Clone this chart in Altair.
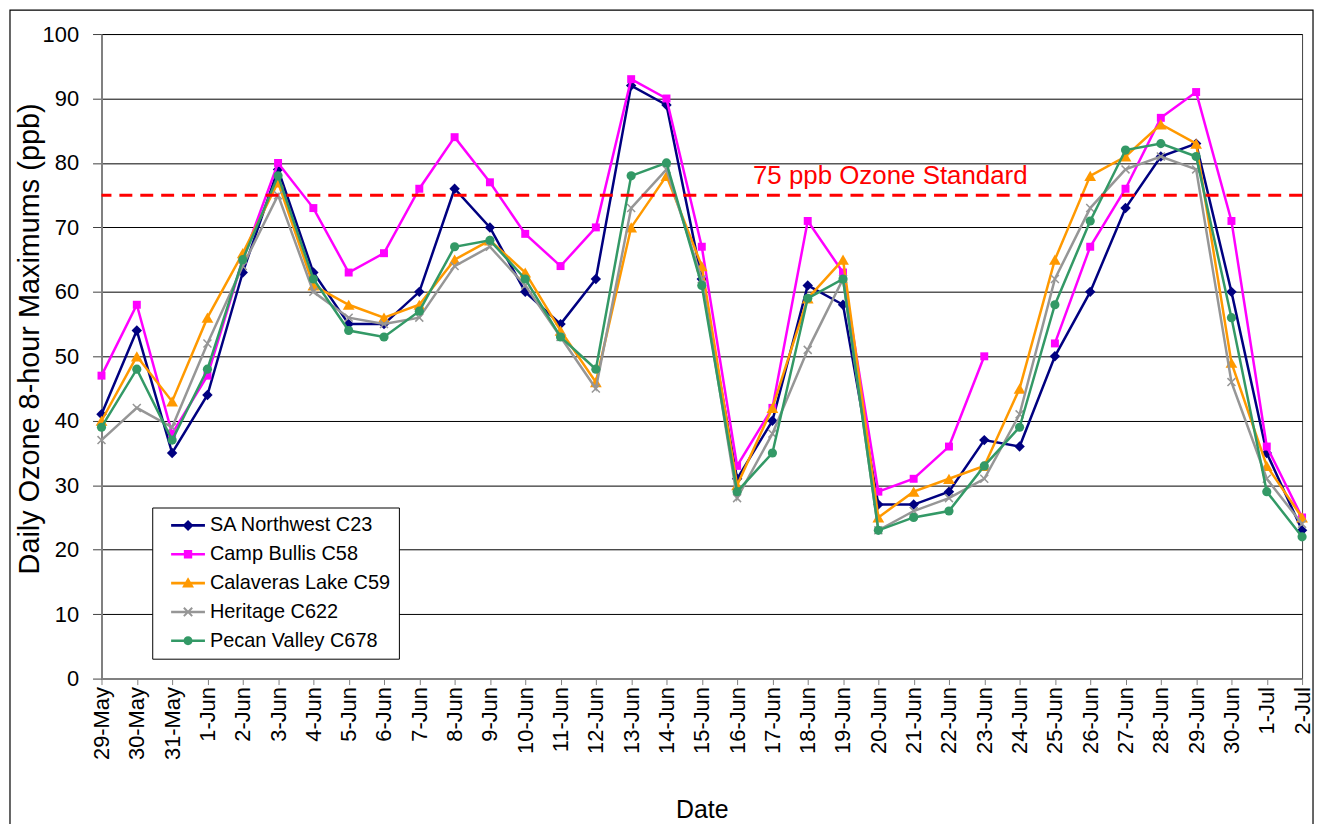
import altair as alt
import pandas as pd

# ---------------- data ----------------
dates = ["29-May", "30-May", "31-May", "1-Jun", "2-Jun", "3-Jun", "4-Jun", "5-Jun",
         "6-Jun", "7-Jun", "8-Jun", "9-Jun", "10-Jun", "11-Jun", "12-Jun", "13-Jun",
         "14-Jun", "15-Jun", "16-Jun", "17-Jun", "18-Jun", "19-Jun", "20-Jun", "21-Jun",
         "22-Jun", "23-Jun", "24-Jun", "25-Jun", "26-Jun", "27-Jun", "28-Jun", "29-Jun",
         "30-Jun", "1-Jul", "2-Jul"]

series_names = ["SA Northwest C23", "Camp Bullis C58", "Calaveras Lake C59",
                "Heritage C622", "Pecan Valley C678"]

sa_northwest = [41, 54, 35, 44, 63, 79, 63, 55, 55, 60, 76, 70, 60, 55, 62, 92, 89, 62,
                31, 40, 61, 58, 27, 27, 29, 37, 36, 50, 60, 73, 81, 83, 60, 35, 23]
camp_bullis = [47, 58, 38, 47, 65, 80, 73, 63, 66, 76, 84, 77, 69, 64, 70, 93, 90, 67,
               33, 42, 71, 63, 29, 31, 36, 50, None, 52, 67, 76, 87, 91, 71, 36, 25]
calaveras = [40, 50, 43, 56, 66, 77, 61, 58, 56, 58, 65, 68, 63, 54, 46, 70, 78, 64,
             30, 42, 59, 65, 25, 29, 31, 33, 45, 65, 78, 81, 86, 83, 49, 33, 25]
heritage = [37, 42, 39, 52, 64, 75, 60, 56, 55, 56, 64, 67, 61, 53, 45, 73, 79, 62,
            28, 38, 51, 62, 23, 26, 28, 31, 41, 62, 73, 79, 81, 79, 46, 31, 24]
pecan_valley = [39, 48, 37, 48, 65, 78, 62, 54, 53, 57, 67, 68, 62, 53, 48, 78, 80, 61,
                29, 35, 59, 62, 23, 25, 26, 33, 39, 58, 71, 82, 83, 81, 56, 29, 22]

standard_value = [75]
standard_label = ["75 ppb Ozone Standard"]
standard_label_date = ["20-Jun"]

y_ticks = [0, 10, 20, 30, 40, 50, 60, 70, 80, 90, 100]

# ---------------- styling ----------------
FONT = "Liberation Sans"
colors = ["#000080", "#FF00FF", "#FF9900", "#969696", "#339966"]

all_values = [sa_northwest, camp_bullis, calaveras, heritage, pecan_valley]

rows = []
for name, vals in zip(series_names, all_values):
    seg = 0
    for d, v in zip(dates, vals):
        if v is None:
            seg += 1
            continue
        rows.append({"date": d, "value": v, "series": name, "seg": f"{name}-{seg}"})
df = pd.DataFrame(rows)

std_df = pd.DataFrame({"value": standard_value, "label": standard_label,
                       "date": standard_label_date})

x_enc = alt.X(
    "date:O", sort=dates, title="Date",
    scale=alt.Scale(type="point", padding=0),
    axis=alt.Axis(labelAngle=270, labelFontSize=22, labelFont=FONT, labelColor="black",
                  labelPadding=2, labelOverlap=False, tickSize=6, tickColor="#808080",
                  domainColor="#808080", domainWidth=2, grid=False,
                  titleFontSize=25, titleFont=FONT, titleColor="black",
                  titleFontWeight="normal", titleY=140, titleBaseline="alphabetic"),
)
y_enc = alt.Y(
    "value:Q", title="Daily Ozone 8-hour Maximums (ppb)",
    scale=alt.Scale(domain=[0, 100], nice=False, zero=True),
    axis=alt.Axis(values=y_ticks, labelFontSize=22, labelFont=FONT, labelColor="black",
                  labelPadding=14, tickSize=9, tickColor="#404040",
                  domainColor="#808080", domainWidth=2, grid=True, gridColor="black",
                  gridWidth=1, titleFontSize=29, titleFont=FONT, titleColor="black",
                  titleFontWeight="normal", titleX=-63, titleY=306,
                  titleBaseline="alphabetic", titleAngle=270),
)

marker_styles = [
    dict(shape="diamond", filled=True, size=110),
    dict(shape="square", filled=True, size=64),
    dict(shape="triangle-up", filled=True, size=140),
    dict(shape="M-1,-1L1,1M-1,1L1,-1", filled=False, size=64, strokeWidth=1.5),
    dict(shape="circle", filled=True, size=85),
]

layers = []

# outer chart frame
frame = alt.Chart(pd.DataFrame({"k": [0]})).mark_rect(
    fillOpacity=0, stroke="black", strokeWidth=1.2
).encode(x=alt.value(-92), x2=alt.value(1218), y=alt.value(-24), y2=alt.value(800))
layers.append(frame)

for name, col, ms in zip(series_names, colors, marker_styles):
    base = alt.Chart(df).transform_filter(alt.datum.series == name)
    line = base.mark_line(color=col, strokeWidth=2.5).encode(x=x_enc, y=y_enc, detail="seg:N")
    pts = base.mark_point(color=col, opacity=1, **ms).encode(x=x_enc, y=y_enc)
    layers += [line, pts]

# legend symbols: line + marker (unit = 10 px at size 400)
cx = 1.8
line_path = "M0.1,-0.13H3.5V0.13H0.1Z"
a, e = 0.42, 0.07
legend_paths = [
    line_path + f"M{cx},-0.55L{cx+0.55},0L{cx},0.55L{cx-0.55},0Z",
    line_path + f"M{cx-0.42},-0.42H{cx+0.42}V0.42H{cx-0.42}Z",
    line_path + f"M{cx},-0.6L{cx+0.6},0.45L{cx-0.6},0.45Z",
    line_path + (f"M{cx-a+e},{-a-e}L{cx+a+e},{a-e}L{cx+a-e},{a+e}L{cx-a-e},{-a+e}Z"
                 f"M{cx-a+e},{a+e}L{cx-a-e},{a-e}L{cx+a-e},{-a-e}L{cx+a+e},{-a+e}Z"),
    line_path + f"M{cx-0.45},0A0.45,0.45 0 1,1 {cx+0.45},0A0.45,0.45 0 1,1 {cx-0.45},0Z",
]

legend_layer = alt.Chart(df).transform_filter("false").mark_point(
    filled=True, opacity=1, size=400
).encode(
    x=x_enc, y=y_enc,
    color=alt.Color("series:N", title=None,
                    scale=alt.Scale(domain=series_names, range=colors)),
    shape=alt.Shape("series:N", title=None,
                    scale=alt.Scale(domain=series_names, range=legend_paths)),
)
layers.append(legend_layer)

# 75 ppb standard line and label
rule = alt.Chart(std_df).mark_rule(color="#FF0000", strokeWidth=3, strokeDash=[13, 8]).encode(
    y=alt.Y("value:Q")
)
label = alt.Chart(std_df).mark_text(
    color="#FF0000", fontSize=26, font=FONT, align="center", baseline="alphabetic",
    dx=12, dy=-11
).encode(x=alt.X("date:O", sort=dates), y=alt.Y("value:Q"), text="label:N")
layers += [rule, label]

chart = alt.layer(*layers).properties(
    width=1207, height=648,
    padding={"left": 94, "top": 24, "right": 14, "bottom": 144},
    autosize=alt.AutoSizeParams(type="none"),
    background="white",
).configure_view(
    stroke="#404040", strokeWidth=1
).configure_legend(
    orient="none", legendX=51, legendY=476, padding=8,
    fillColor="white", strokeColor="black", strokeWidth=1, cornerRadius=0,
    labelFont=FONT, labelFontSize=20, labelColor="black", labelLimit=400,
    labelOffset=30, symbolSize=400, symbolStrokeWidth=0, rowPadding=9,
)

chart.save("out.html", embed_options={"renderer": "svg", "actions": False})
